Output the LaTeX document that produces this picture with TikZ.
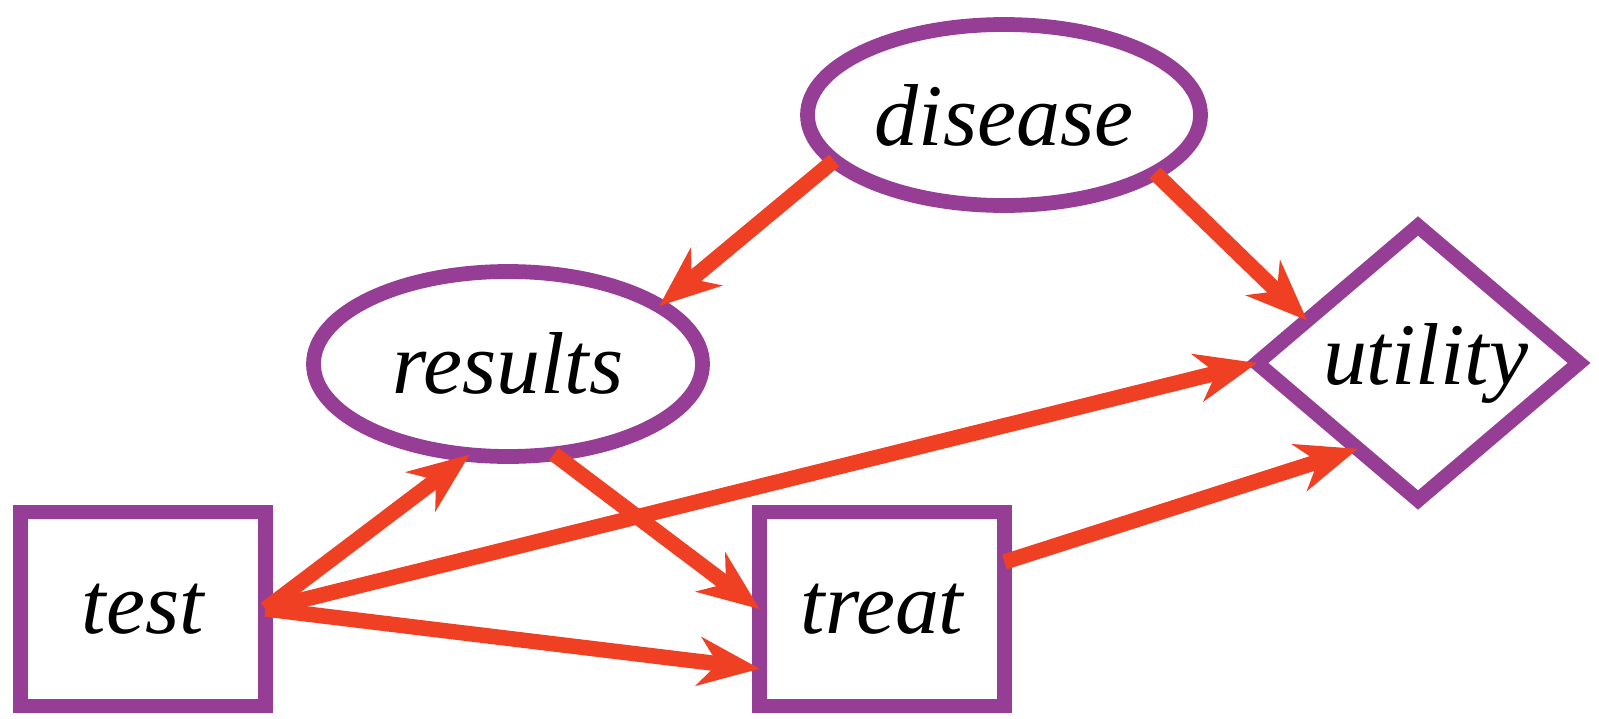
\documentclass[tikz,border=0pt]{standalone}
\usepackage{fontspec}
\setmainfont{Liberation Serif}
\usepackage{tikz}
\usetikzlibrary{positioning, arrows.meta, shapes.geometric}
\definecolor{nodepurple}{RGB}{150, 62, 150}
\definecolor{arcred}{RGB}{240, 64, 36}

\begin{document}
\begin{tikzpicture}[font=\fontsize{25}{30}\selectfont\itshape,
    chance/.style={draw=nodepurple, line width=4.2pt, ellipse, inner sep=0pt, outer sep=0pt},
    decision/.style={draw=nodepurple, line width=4.2pt, rectangle, inner sep=0pt, outer sep=0pt,
      minimum width=2.45cm, minimum height=1.94cm},
    value/.style={draw=nodepurple, line width=4.2pt, diamond, aspect=1.175, inner sep=0pt, outer sep=0pt,
      minimum width=3.22cm, minimum height=2.74cm},
    arc/.style={draw=arcred, line width=4.4pt,
      -{Stealth[length=0.62cm, width=0.5cm, inset=0.2cm, fill=arcred, line width=0pt]}}]

  \useasboundingbox (0,0) rectangle (15.99,7.18);

  % Chance nodes
  \node[chance, minimum width=3.93cm, minimum height=1.81cm] (disease) at (10.04, 6.03) {disease};
  \node[chance, minimum width=3.89cm, minimum height=1.85cm] (results) at (5.08, 3.54) {results};

  % Decision nodes
  \node[decision] (test) at (1.43, 1.09) {test};
  \node[decision] (treat) at (8.82, 1.09) {treat};

  % Utility node
  \node[value] (utility) at (14.18, 3.55) {\hspace*{0.15cm}utility};

  % Arcs
  \draw[arc] (disease.195) -- (results.21);
  \draw[arc] (disease.339) -- (utility.159);
  \draw[arc] (test.east) -- (results.247);
  \draw[arc] (test.east) -- (utility.west);
  \draw[arc] (test.east) -- (treat.206);
  \draw[arc] (results.297) -- (treat.west);
  \draw[arc] (treat.21) -- (utility.235);
\end{tikzpicture}
\end{document}
